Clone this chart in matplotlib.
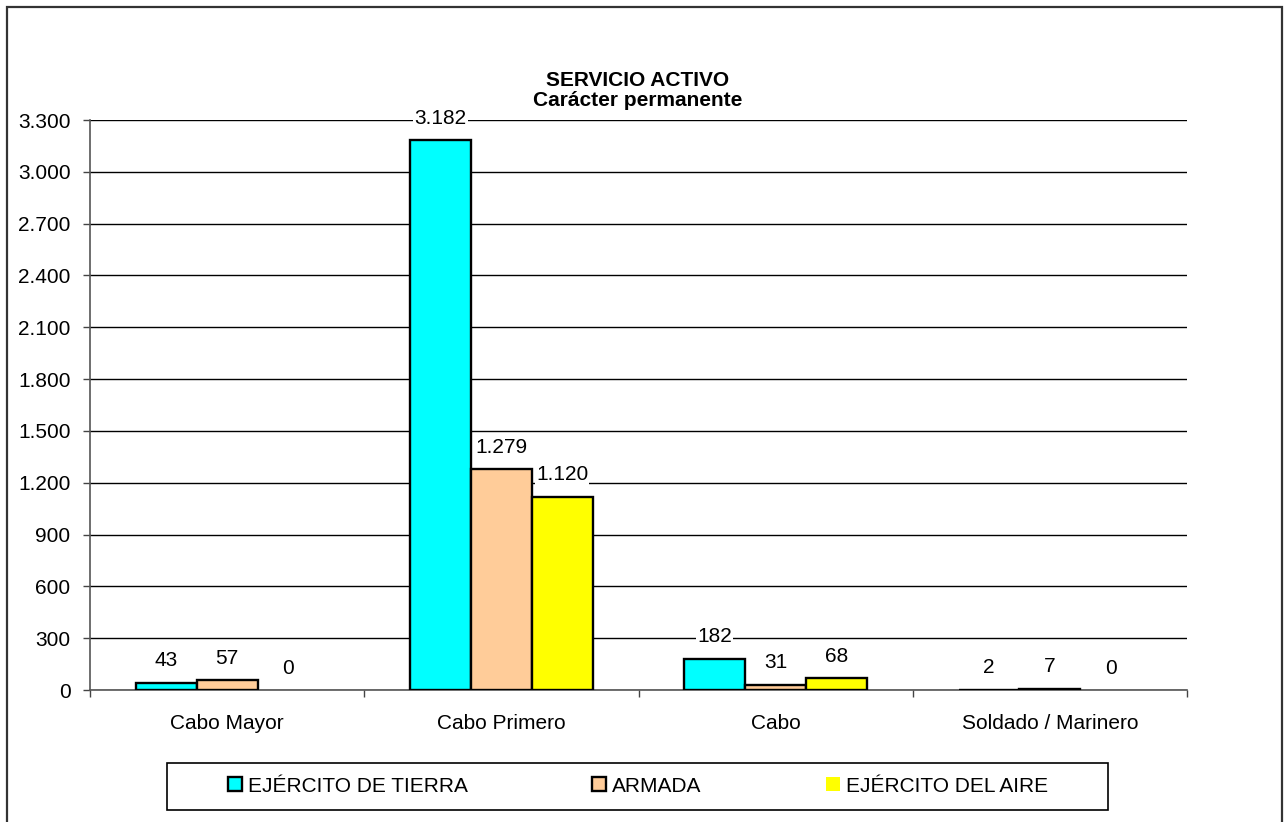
import matplotlib.pyplot as plt
import numpy as np
from matplotlib.patches import Rectangle

plt.rcParams['font.family'] = ['Liberation Sans', 'DejaVu Sans']
plt.rcParams['font.size'] = 15

# datos
categorias = ["Cabo Mayor", "Cabo Primero", "Cabo", "Soldado / Marinero"]
ejercito_tierra = [43, 3182, 182, 2]
armada = [57, 1279, 31, 7]
ejercito_aire = [0, 1120, 68, 0]
series = ["EJÉRCITO DE TIERRA", "ARMADA", "EJÉRCITO DEL AIRE"]
colores = ["#00FFFF", "#FFCC99", "#FFFF00"]
yticks = np.arange(0, 3301, 300)

W, H = 1286, 822
fig = plt.figure(figsize=(W / 100, H / 100), dpi=100)
ax = fig.add_axes([90 / W, 1 - 690 / H, (1187 - 90) / W, (690 - 120) / H])


def fmt(v):
    return f"{v:,.0f}".replace(",", ".")


x = np.arange(len(categorias))
ancho = 0.222
for i, (vals, col, nom) in enumerate(zip([ejercito_tierra, armada, ejercito_aire], colores, series)):
    pos = x + (i - 1) * ancho
    lws = [1.7 if v > 0 else 0 for v in vals]
    ax.bar(pos, vals, ancho, color=col, edgecolor="black", linewidth=lws, label=nom, zorder=3)
    for p, v in zip(pos, vals):
        ax.annotate(fmt(v), (p, v), xytext=(0, 9), textcoords="offset points",
                    ha="center", va="bottom", fontsize=15, zorder=4,
                    bbox=dict(boxstyle="square,pad=0.05", fc="white", ec="none"))

ax.set_xlim(-0.5, 3.5)
ax.set_ylim(0, 3300)
ax.set_yticks(yticks)
ax.set_yticklabels([fmt(v) for v in yticks])
ax.yaxis.grid(True, color="black", linewidth=1.0)
ax.set_axisbelow(True)

ax.set_xticks(np.arange(-0.5, 4, 1))
ax.set_xticklabels([])
ax.set_xticks(x, minor=True)
ax.set_xticklabels(categorias, minor=True)
ax.tick_params(axis="x", which="minor", length=0, pad=17)
ax.tick_params(axis="x", which="major", length=5, width=1, color="#444444", direction="out")
ax.tick_params(axis="y", length=5, width=1, color="#444444", pad=9)

for s in ["top", "right"]:
    ax.spines[s].set_visible(False)
for s in ["left", "bottom"]:
    ax.spines[s].set_color("#555555")
    ax.spines[s].set_linewidth(1.2)

fig.text(638 / W, 1 - 80 / H, "SERVICIO ACTIVO", ha="center", va="center",
         fontsize=15, fontweight="bold")
fig.text(638 / W, 1 - 101 / H, "Carácter permanente", ha="center", va="center",
         fontsize=15, fontweight="bold")

# leyenda
fig.add_artist(Rectangle((167 / W, 1 - 810 / H), (1108 - 167) / W, 47 / H,
                         transform=fig.transFigure, fill=False, ec="black", lw=1.2))
ax.legend(loc="center", bbox_to_anchor=(638 / W, 1 - 786 / H), bbox_transform=fig.transFigure,
          ncol=3, frameon=False, handlelength=0.68, handleheight=0.68, handletextpad=0.3,
          columnspacing=5.95, fontsize=15)

# marco exterior
fig.add_artist(Rectangle((7 / W, -0.05), (1282 - 7) / W, 1.05 - 7 / H,
                         transform=fig.transFigure, fill=False, ec="#333333", lw=1.6))

fig.savefig("out.png", dpi=100)
